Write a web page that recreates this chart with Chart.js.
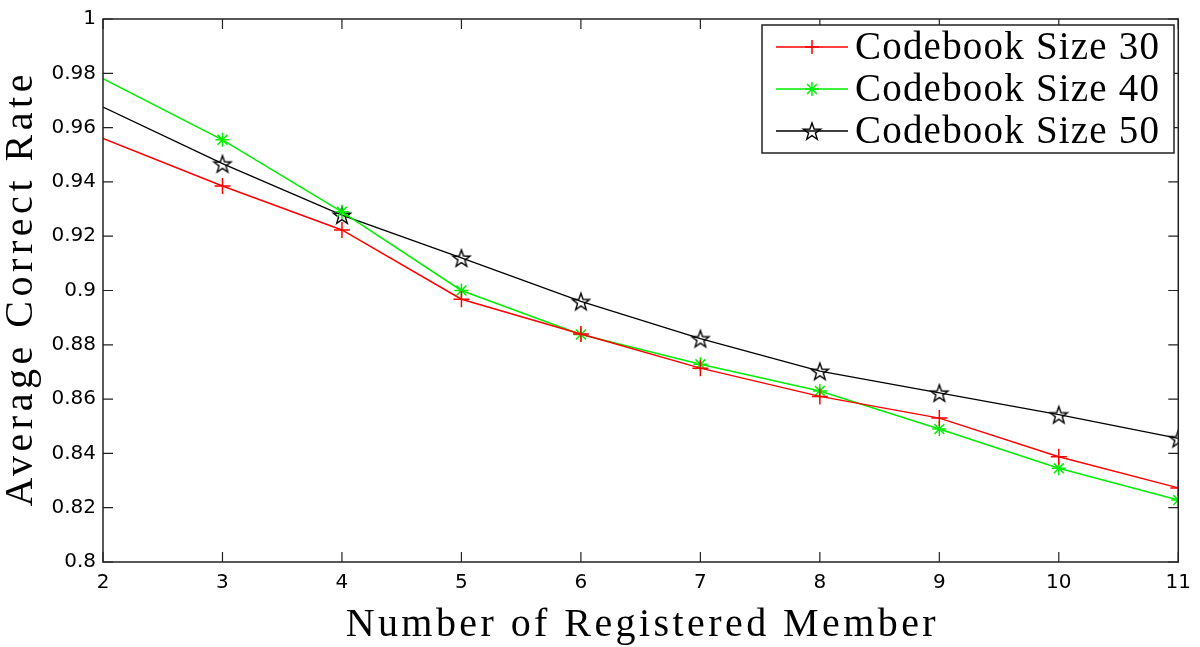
<!DOCTYPE html>
<html>
<head>
<meta charset="utf-8">
<script src="https://cdn.jsdelivr.net/npm/chart.js@4/dist/chart.umd.min.js"></script>
<style>
  html, body { margin: 0; padding: 0; background: #fff; }
  #wrap { width: 1200px; height: 647px; position: relative; }
</style>
</head>
<body>
<div id="wrap"><canvas id="rateChart"></canvas></div>
<script>
    // --- DATA ---
    const members = [2, 3, 4, 5, 6, 7, 8, 9, 10, 11];
    const size30 = [0.956, 0.9385, 0.9223, 0.8968, 0.8840, 0.8714, 0.8610, 0.8530, 0.8388, 0.8273];
    const size40 = [0.978, 0.9555, 0.9290, 0.9000, 0.8838, 0.8728, 0.8630, 0.8490, 0.8345, 0.8228];
    const size50 = [0.9676, 0.9467, 0.9278, 0.9120, 0.8960, 0.8823, 0.8703, 0.8623, 0.8543, 0.8455];
    const seriesLabels = ['Codebook Size 30', 'Codebook Size 40', 'Codebook Size 50'];
    const yTicks = [0.8, 0.82, 0.84, 0.86, 0.88, 0.9, 0.92, 0.94, 0.96, 0.98, 1];
    const xTitle = 'Number of Registered Member';
    const yTitle = 'Average Correct Rate';

    // --- UTILITY FUNCTIONS ---

    // Pentagram marker (MATLAB 'p' style), outline only
    function makePentagram(r) {
        const c = document.createElement('canvas');
        const s = Math.ceil(r * 2 + 4);
        c.width = s; c.height = s;
        const g = c.getContext('2d');
        const cx = s / 2, cy = s / 2 + 1;
        g.beginPath();
        for (let i = 0; i < 10; i++) {
            const rad = i % 2 === 0 ? r : r * 0.4;
            const a = -Math.PI / 2 + i * Math.PI / 5;
            const px = cx + rad * Math.cos(a), py = cy + rad * Math.sin(a);
            if (i === 0) g.moveTo(px, py); else g.lineTo(px, py);
        }
        g.closePath();
        g.lineWidth = 1.4;
        g.strokeStyle = '#000';
        g.stroke();
        return c;
    }
    const pentagram = makePentagram(9);

    function toPoints(values) {
        return values.map((v, i) => ({ x: members[i], y: v }));
    }

    // first point sits on the left axis without a marker, as in the original figure
    const hideFirst = r => ctx => (ctx.dataIndex === 0 ? 0 : r);

    // Draw text stretched to a given width with letter spacing (serif titles look wide)
    function spacedText(ctx, text, x, y, width) {
        ctx.letterSpacing = '0px';
        const natural = ctx.measureText(text).width;
        const spacing = (width - natural) / (text.length - 1);
        ctx.letterSpacing = spacing + 'px';
        ctx.textAlign = 'left';
        ctx.fillText(text, x - width / 2, y);
        ctx.letterSpacing = '0px';
    }

    // --- PLUGIN: MATLAB-like box, inward ticks, axis titles, legend ---
    const matlabFrame = {
        id: 'matlabFrame',
        afterDraw(chart) {
            const ctx = chart.ctx;
            const a = chart.chartArea;
            const xs = chart.scales.x, ys = chart.scales.y;
            ctx.save();
            ctx.strokeStyle = '#222';
            ctx.lineWidth = 1.5;
            ctx.strokeRect(a.left, a.top, a.right - a.left, a.bottom - a.top);

            // inward ticks
            ctx.lineWidth = 1.2;
            ctx.beginPath();
            members.forEach(v => {
                const px = xs.getPixelForValue(v);
                ctx.moveTo(px, a.bottom); ctx.lineTo(px, a.bottom - 10);
                ctx.moveTo(px, a.top); ctx.lineTo(px, a.top + 10);
            });
            yTicks.forEach(v => {
                const py = ys.getPixelForValue(v);
                ctx.moveTo(a.left, py); ctx.lineTo(a.left + 10, py);
                ctx.moveTo(a.right, py); ctx.lineTo(a.right - 10, py);
            });
            ctx.stroke();

            // axis titles
            ctx.fillStyle = '#000';
            ctx.font = '40px "Liberation Serif", "DejaVu Serif", serif';
            ctx.textBaseline = 'middle';
            spacedText(ctx, xTitle, (a.left + a.right) / 2, 625, 590);
            ctx.save();
            ctx.translate(21, (a.top + a.bottom) / 2);
            ctx.rotate(-Math.PI / 2);
            spacedText(ctx, yTitle, 0, 0, 432);
            ctx.restore();

            // legend box
            const bx = 762, by = 25, bw = 412, bh = 128;
            ctx.fillStyle = '#fff';
            ctx.fillRect(bx, by, bw, bh);
            ctx.strokeStyle = '#222';
            ctx.lineWidth = 1.5;
            ctx.strokeRect(bx, by, bw, bh);
            ctx.font = '39px "Liberation Serif", "DejaVu Serif", serif';
            chart.data.datasets.forEach((ds, i) => {
                const cy = by + 22 + i * 42;
                ctx.strokeStyle = ds.borderColor;
                ctx.lineWidth = 1.5;
                ctx.beginPath();
                ctx.moveTo(bx + 14, cy); ctx.lineTo(bx + 86, cy);
                ctx.stroke();
                Chart.helpers.drawPoint(ctx, {
                    pointStyle: ds.pointStyle,
                    radius: 7,
                    borderWidth: 1.5
                }, bx + 50, cy);
                ctx.fillStyle = '#000';
                ctx.textBaseline = 'middle';
                spacedText(ctx, ds.label, bx + 93 + 152, cy + 2, 304);
            });
            ctx.restore();
        }
    };

    // --- CHART CONFIGURATION ---
    const tickFont = { family: '"DejaVu Sans", sans-serif', size: 20 };
    const ctxRate = document.getElementById('rateChart').getContext('2d');
    new Chart(ctxRate, {
        type: 'line',
        data: {
            datasets: [
                {
                    label: seriesLabels[0],
                    data: toPoints(size30),
                    borderColor: '#ff0000',
                    backgroundColor: '#ff0000',
                    borderWidth: 1.5,
                    pointStyle: 'cross',
                    pointRadius: hideFirst(8),
                    pointBorderWidth: 1.5,
                    tension: 0
                },
                {
                    label: seriesLabels[1],
                    data: toPoints(size40),
                    borderColor: '#00ee00',
                    backgroundColor: '#00ee00',
                    borderWidth: 1.5,
                    pointStyle: 'star',
                    pointRadius: hideFirst(7),
                    pointBorderWidth: 1.5,
                    tension: 0
                },
                {
                    label: seriesLabels[2],
                    data: toPoints(size50),
                    borderColor: '#000000',
                    backgroundColor: '#000000',
                    borderWidth: 1.3,
                    pointStyle: pentagram,
                    pointRadius: hideFirst(9),
                    tension: 0
                }
            ]
        },
        options: {
            responsive: true,
            maintainAspectRatio: false,
            animation: false,
            layout: { padding: { left: 40, right: 14, top: 12, bottom: 50 } },
            scales: {
                x: {
                    type: 'linear',
                    min: 2,
                    max: 11,
                    afterBuildTicks: s => { s.ticks = members.map(v => ({ value: v })); },
                    afterFit: s => { s.height = 35; },
                    grid: { display: false, drawTicks: false },
                    border: { display: false },
                    ticks: {
                        padding: 9,
                        color: '#000',
                        font: tickFont
                    }
                },
                y: {
                    min: 0.8,
                    max: 1,
                    afterBuildTicks: s => { s.ticks = yTicks.map(v => ({ value: v })); },
                    afterFit: s => { s.width = 63; },
                    grid: { display: false, drawTicks: false },
                    border: { display: false },
                    ticks: {
                        padding: 7,
                        color: '#000',
                        font: tickFont,
                        callback: v => String(Math.round(v * 100) / 100)
                    }
                }
            },
            plugins: {
                legend: { display: false },
                tooltip: { enabled: false }
            }
        },
        plugins: [matlabFrame]
    });
</script>
</body>
</html>
